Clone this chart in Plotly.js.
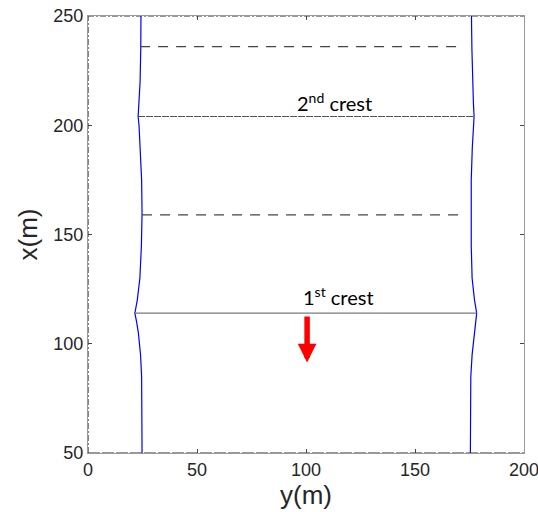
<!DOCTYPE html>
<html>
<head>
<meta charset="utf-8">
<script src="https://cdn.plot.ly/plotly-3.0.1.min.js"></script>
<style>html,body{margin:0;padding:0;background:#fff;}#chart{width:538px;height:512px;}</style>
</head>
<body>
<div id="chart"></div>
<script>
// Along-channel position x (m) — vertical axis
const alongX = [50, 70, 85, 95, 100, 105, 110, 114, 120, 130, 145, 160, 175, 190, 200, 204, 210, 220, 235, 250];
// Left bank position y (m)
const leftBank = [24.8, 24.8, 24.6, 24.1, 23.7, 23.1, 22.3, 21.5, 22.6, 23.8, 24.5, 24.8, 24.6, 24.0, 23.4, 23.0, 23.4, 23.9, 24.2, 24.3];
// Right bank position y (m)
const rightBank = [175.4, 175.4, 175.6, 176.2, 176.7, 177.2, 177.8, 178.3, 177.3, 176.2, 175.8, 175.7, 175.8, 176.3, 176.8, 177.1, 176.8, 176.4, 176.1, 175.9];

// Crest and trough lines: level x, start y, end y
const crestLevels = [114, 204];
const crestStart = [21.5, 23.0];
const crestEnd = [178.3, 177.1];
const troughLevels = [159, 236];
const troughStart = [24.8, 23.9];
const troughEnd = [172.0, 172.0];

const crestLabels = ["1<sup>st</sup> crest", "2<sup>nd</sup> crest"];
const labelX = [114.7, 113];
const labelY = [121.8, 210.8];

// Propagation arrow
const arrowAt = [100.5];
const arrowFrom = [113.2];
const arrowTo = [91.4];

const xRange = [0, 200];
const yRange = [50, 250];
const xTicks = [0, 50, 100, 150, 200];
const yTicks = [50, 100, 150, 200, 250];

const traces = [];
traces.push({x: leftBank, y: alongX, mode: 'lines', line: {color: '#0000ff', width: 1.2}, cliponaxis: false});
traces.push({x: rightBank, y: alongX, mode: 'lines', line: {color: '#0000ff', width: 1.2}, cliponaxis: false});
crestLevels.forEach((lv, i) => {
  traces.push({x: [crestStart[i], crestEnd[i]], y: [lv, lv], mode: 'lines',
    line: {color: i === 0 ? '#7a7a7a' : '#505050', width: 1.2, dash: i === 0 ? 'solid' : '7px,1px'}});
});
troughLevels.forEach((lv, i) => {
  traces.push({x: [troughStart[i], troughEnd[i]], y: [lv, lv], mode: 'lines',
    line: {color: '#444444', width: 1.2, dash: '10px,8px'}});
});
// frame overlays (dash-dot top/left, dashed bottom)
traces.push({x: [xRange[0], xRange[1]], y: [yRange[1], yRange[1]], mode: 'lines', line: {color: '#333', width: 1.2, dash: '6px,2px,2px,2px'}, cliponaxis: false});
traces.push({x: [xRange[0], xRange[0]], y: [yRange[0], yRange[1]], mode: 'lines', line: {color: '#333', width: 1.2, dash: '6px,2px,2px,2px'}, cliponaxis: false});
traces.push({x: [xRange[0], xRange[1]], y: [yRange[0], yRange[0]], mode: 'lines', line: {color: '#333', width: 1.2, dash: '12px,2px'}, cliponaxis: false});

const annotations = crestLabels.map((t, i) => ({
  x: labelX[i], y: labelY[i], xref: 'x', yref: 'y', text: t, showarrow: false,
  font: {family: 'Lato, Open Sans, sans-serif', size: 20, color: '#000'}
}));
annotations.push({
  x: arrowAt[0], y: arrowTo[0], ax: arrowAt[0], ay: arrowFrom[0], axref: 'x', ayref: 'y',
  xref: 'x', yref: 'y', text: '', showarrow: true, arrowhead: 2, arrowwidth: 5.5, arrowsize: 0.68,
  arrowcolor: '#ff0000'
});

const axisFont = {family: 'Liberation Sans, Arial, sans-serif', size: 18, color: '#262626'};
const layout = {
  width: 538, height: 512,
  margin: {l: 88, r: 14, t: 16, b: 59},
  paper_bgcolor: '#fff', plot_bgcolor: '#fff',
  showlegend: false,
  xaxis: {range: xRange, tickvals: xTicks, ticks: 'inside', ticklen: 4, tickcolor: '#444',
    showgrid: false, zeroline: false, showline: true, linecolor: '#999', linewidth: 1, mirror: 'allticks',
    ticklabeloverflow: 'allow', automargin: false,
    tickfont: axisFont, title: {text: 'y(m)', font: {family: 'Liberation Sans, Arial, sans-serif', size: 26, color: '#262626'}, standoff: 4}},
  yaxis: {range: yRange, tickvals: yTicks, ticks: 'inside', ticklen: 4, tickcolor: '#444',
    showgrid: false, zeroline: false, showline: true, linecolor: '#999', linewidth: 1, mirror: 'allticks',
    ticklabeloverflow: 'allow', automargin: false,
    tickfont: axisFont, title: {text: 'x(m)', font: {family: 'Liberation Sans, Arial, sans-serif', size: 26, color: '#262626'}, standoff: 8}},
  annotations: annotations
};
Plotly.newPlot('chart', traces, layout, {staticPlot: true, displayModeBar: false});
</script>
</body>
</html>
